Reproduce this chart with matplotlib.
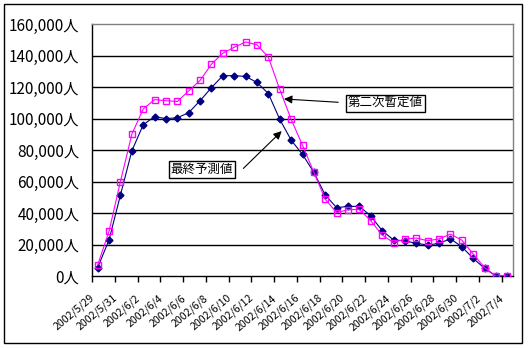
import matplotlib
matplotlib.use('Agg')
import matplotlib.pyplot as plt
from matplotlib.patches import Rectangle
from matplotlib.ticker import FuncFormatter
from matplotlib.transforms import ScaledTranslation
import pandas as pd

plt.rcParams['font.family'] = ['Noto Sans CJK JP', 'DejaVu Sans']

# categories: one per day
dates = pd.date_range('2002-05-29', '2002-07-04', freq='D')
labels = ['%d/%d/%d' % (d.year, d.month, d.day) for d in dates]

# 第二次暫定値 (magenta)
provisional = [7000, 28500, 60000, 90000, 106000, 112000, 111300, 110800, 117500, 124200,
               134500, 141500, 145200, 148600, 146800, 138900, 118500, 99500, 83000, 65800,
               48700, 40200, 42100, 42300, 35100, 26000, 21200, 23500, 24100, 22400,
               23500, 26600, 22800, 14000, 5300, 0, 0]
# 最終予測値 (navy)
forecast = [5300, 23000, 51400, 79400, 96000, 101200, 99900, 100500, 103700, 111300,
            119600, 127200, 127200, 126700, 122900, 115800, 99500, 86300, 77200, 65800,
            51400, 43400, 44200, 44200, 38100, 28800, 22900, 22300, 20700, 19700,
            20700, 23600, 18600, 11200, 4900, 0, 0]

fig = plt.figure(figsize=(5.28, 3.48), dpi=100)
ax = fig.add_axes([92/528, 72/348, 421/528, 252/348])

x = list(range(len(labels)))
ax.plot(x, forecast, color='#000080', lw=0.8, marker='D', ms=3.5,
        mfc='#000080', mec='#000080', zorder=3)
ax.plot(x, provisional, color='#FF00FF', lw=0.8, marker='s', ms=4.2,
        mfc='none', mec='#FF00FF', mew=1.0, zorder=4)

ax.set_xlim(-0.5, len(labels) - 0.5)
ax.set_ylim(0, 160000)
ax.set_yticks(range(0, 160001, 20000))
ax.yaxis.set_major_formatter(FuncFormatter(lambda v, p: '{:,.0f}人'.format(v)))
ax.tick_params(axis='y', length=0, pad=9, labelsize=11)
for v in range(20000, 160000, 20000):
    ax.axhline(v, color='black', lw=1, zorder=1)

ax.set_xticks(x[::2])
ax.set_xticklabels(labels[::2], rotation=40, ha='right', rotation_mode='anchor', fontsize=7.6)
ax.tick_params(axis='x', which='major', length=0, pad=12)
shift = ScaledTranslation(-8/100, 0, fig.dpi_scale_trans)
for t in ax.get_xticklabels():
    t.set_transform(t.get_transform() + shift)
ax.set_xticks([i - 0.5 for i in x[::2]], minor=True)
ax.tick_params(axis='x', which='minor', length=4, width=1, color='black', direction='out')

for s in ['top', 'right']:
    ax.spines[s].set_color('#808080')
for s in ['left', 'bottom']:
    ax.spines[s].set_color('black')
for s in ax.spines.values():
    s.set_linewidth(1)

box = dict(boxstyle='square,pad=0.15', fc='white', ec='black', lw=1)
ax.text(25.3, 109500, '第二次暫定値', fontsize=9, ha='center', va='center', bbox=box, zorder=5)
ax.text(9.16, 67800, '最終予測値', fontsize=9, ha='center', va='center', bbox=box, zorder=5)
arrow = dict(arrowstyle='-|>', color='black', lw=0.8, mutation_scale=12, shrinkA=0, shrinkB=0)
ax.annotate('', xy=(16.37, 112400), xytext=(21.14, 110300), arrowprops=arrow, zorder=5)
ax.annotate('', xy=(16.17, 92000), xytext=(12.8, 68300), arrowprops=arrow, zorder=5)

fig.patches.append(Rectangle((4/528, 5/348), 518/528, 339/348, transform=fig.transFigure,
                             fill=False, ec='black', lw=1))

fig.savefig('out.png', dpi=100)
